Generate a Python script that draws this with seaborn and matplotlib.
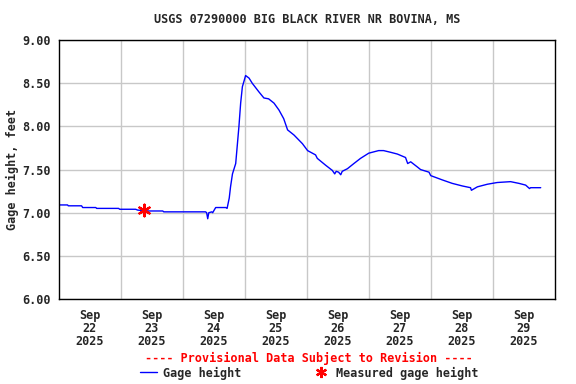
import matplotlib
matplotlib.use("Agg")
import matplotlib.pyplot as plt
from matplotlib.lines import Line2D
import seaborn as sns
import pandas as pd

# gage height readings (feet)
times = [
    "2025-09-22 00:00", "2025-09-22 03:20", "2025-09-22 03:35", "2025-09-22 08:45",
    "2025-09-22 09:10", "2025-09-22 14:15", "2025-09-22 14:35", "2025-09-22 20:45",
    "2025-09-22 21:10", "2025-09-22 23:05", "2025-09-22 23:30", "2025-09-23 05:40",
    "2025-09-23 06:30", "2025-09-23 10:45", "2025-09-23 16:10", "2025-09-23 16:35",
    "2025-09-24 08:45", "2025-09-24 09:10", "2025-09-24 09:35", "2025-09-24 10:00",
    "2025-09-24 11:10", "2025-09-24 11:30", "2025-09-24 12:40", "2025-09-24 13:50",
    "2025-09-24 16:35", "2025-09-24 17:05", "2025-09-24 17:55", "2025-09-24 18:25",
    "2025-09-24 19:10", "2025-09-24 20:25", "2025-09-24 21:40", "2025-09-24 22:20",
    "2025-09-24 23:00", "2025-09-24 23:35", "2025-09-25 00:15", "2025-09-25 01:35",
    "2025-09-25 02:50", "2025-09-25 05:25", "2025-09-25 07:20", "2025-09-25 09:10",
    "2025-09-25 11:15", "2025-09-25 13:10", "2025-09-25 15:00", "2025-09-25 16:30",
    "2025-09-25 19:00", "2025-09-25 22:15", "2025-09-26 00:15", "2025-09-26 03:20",
    "2025-09-26 04:00", "2025-09-26 07:15", "2025-09-26 09:50", "2025-09-26 10:45",
    "2025-09-26 11:20", "2025-09-26 12:15", "2025-09-26 13:05", "2025-09-26 13:40",
    "2025-09-26 15:40", "2025-09-26 18:10", "2025-09-26 20:45", "2025-09-26 23:55",
    "2025-09-27 03:45", "2025-09-27 05:40", "2025-09-27 08:25", "2025-09-27 11:00",
    "2025-09-27 14:10", "2025-09-27 15:00", "2025-09-27 16:10", "2025-09-27 18:45",
    "2025-09-27 20:00", "2025-09-27 23:15", "2025-09-27 23:55", "2025-09-28 04:25",
    "2025-09-28 08:15", "2025-09-28 12:10", "2025-09-28 15:20", "2025-09-28 15:40",
    "2025-09-28 18:00", "2025-09-28 21:50", "2025-09-29 01:40", "2025-09-29 06:50",
    "2025-09-29 10:05", "2025-09-29 12:40", "2025-09-29 14:10", "2025-09-29 14:35",
    "2025-09-29 18:30",
]
gage = [
    7.09, 7.09, 7.08, 7.08,
    7.06, 7.06, 7.05, 7.05,
    7.05, 7.05, 7.04, 7.04,
    7.03, 7.02, 7.02, 7.01,
    7.01, 7.00, 6.93, 7.00,
    7.01, 7.00, 7.06, 7.06,
    7.06, 7.05, 7.17, 7.30,
    7.45, 7.57, 8.00, 8.27,
    8.46, 8.52, 8.59, 8.56,
    8.50, 8.40, 8.33, 8.32,
    8.27, 8.19, 8.09, 7.96,
    7.90, 7.80, 7.72, 7.67,
    7.63, 7.55, 7.49, 7.45,
    7.48, 7.47, 7.44, 7.48,
    7.51, 7.57, 7.63, 7.69,
    7.72, 7.72, 7.70, 7.68,
    7.64, 7.57, 7.59, 7.53,
    7.50, 7.47, 7.43, 7.38,
    7.34, 7.31, 7.29, 7.26,
    7.30, 7.33, 7.35, 7.36,
    7.34, 7.32, 7.28, 7.29,
    7.29,
]

meas_time = ["2025-09-23 08:55"]
meas_gage = [7.03]

day_labels = ["2025-09-22", "2025-09-23", "2025-09-24", "2025-09-25",
              "2025-09-26", "2025-09-27", "2025-09-28", "2025-09-29"]
y_ticks = [6.0, 6.5, 7.0, 7.5, 8.0, 8.5, 9.0]

df = pd.DataFrame({"time": pd.to_datetime(times), "gage": gage})
meas = pd.DataFrame({"time": pd.to_datetime(meas_time), "gage": meas_gage})

sns.set_style("white")
plt.rcParams["font.family"] = ["DejaVu Sans Mono"]
plt.rcParams["font.weight"] = "bold"
fs = 8.5

fig = plt.figure(figsize=(5.76, 3.84), dpi=100)
ax = fig.add_axes([0.1024, 0.2214, 0.861, 0.674])

sns.lineplot(data=df, x="time", y="gage", color="#0000ff", lw=1, ax=ax)
sns.scatterplot(data=meas, x="time", y="gage", marker=(6, 2, 0), s=70,
                color="#ff0000", edgecolor="#ff0000", linewidth=1.6, zorder=5, ax=ax)

start = pd.Timestamp("2025-09-22")
ax.set_xlim(start, start + pd.Timedelta(days=8))
ax.set_ylim(6.0, 9.0)

# labels at noon, grid lines at midnight
noons = [pd.Timestamp(d) + pd.Timedelta(hours=12) for d in day_labels]
ax.set_xticks(noons)
ax.set_xticklabels([pd.Timestamp(d).strftime("%b\n%d\n%Y") for d in day_labels],
                   fontsize=fs, fontweight="bold", linespacing=1.0)
ax.set_xticks([pd.Timestamp(d) for d in day_labels[1:]], minor=True)
ax.set_yticks(y_ticks)
ax.set_yticklabels([f"{v:.2f}" for v in y_ticks], fontsize=fs, fontweight="bold")
ax.tick_params(axis="both", which="both", length=0)
ax.tick_params(axis="x", pad=7)
ax.tick_params(axis="y", pad=6)

ax.grid(False)
ax.grid(True, axis="x", which="minor", color="#c8c8c8", lw=1)
ax.grid(True, axis="y", which="major", color="#c8c8c8", lw=1)
for sp in ax.spines.values():
    sp.set_color("black")
    sp.set_linewidth(1)

ax.set_xlabel("")
ax.set_ylabel("Gage height, feet", fontsize=fs, fontweight="bold", labelpad=2)
ax.set_title("USGS 07290000 BIG BLACK RIVER NR BOVINA, MS",
             fontsize=fs, fontweight="bold", pad=12)

fig.text(0.5365, 1 - 358 / 384, "---- Provisional Data Subject to Revision ----",
         color="#ff0000", fontsize=fs, fontweight="bold", ha="center", va="center")

handles = [
    Line2D([], [], color="#0000ff", lw=1),
    Line2D([], [], color="#ff0000", marker=(6, 2, 0), ls="none", ms=8, mew=1.6),
]
fig.legend(handles, ["Gage height", "Measured gage height"], loc="center",
           bbox_to_anchor=(0.5365, 1 - 373 / 384), ncol=2, frameon=False,
           handlelength=1.5, handletextpad=0.5, columnspacing=6,
           borderpad=0, prop={"weight": "bold", "size": fs})

fig.savefig("out.png", dpi=100)
